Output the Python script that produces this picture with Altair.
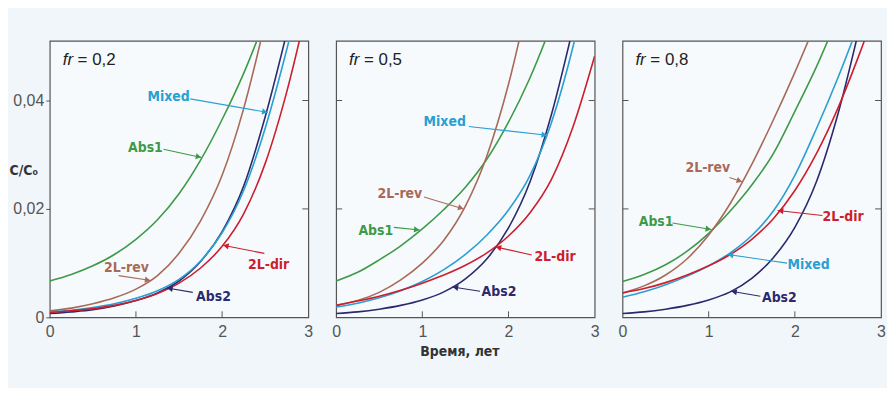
import math
import altair as alt
import pandas as pd

# ---------------- data ----------------
X_GRID = [0, 0.25, 0.5, 0.75, 1.0, 1.25, 1.5, 1.75, 2.0, 2.25, 2.5, 2.75, 3.0]
SERIES = ["Abs1", "2L-rev", "Abs2", "Mixed", "2L-dir"]
COLORS = ["#3d9a47", "#a86a58", "#2c2a6c", "#2a9fd2", "#cc1f2d"]
PANELS = ["0,2", "0,5", "0,8"]
X_TICKS = [0, 1, 2, 3]
Y_TICKS = [0, 0.02, 0.04]
Y_TOP = 0.051

# fr = 0,2
P1_ABS1 = [0.0067, 0.0079, 0.0095, 0.0116, 0.0144, 0.0180, 0.0228, 0.0290, 0.0365, 0.0450, 0.0550]
P1_2LREV = [0.0012, 0.0017, 0.0025, 0.0036, 0.0052, 0.0077, 0.0118, 0.0178, 0.0262, 0.0385, 0.0545]
P1_ABS2 = [0.0007, 0.0010, 0.0014, 0.0021, 0.0031, 0.0045, 0.0067, 0.0103, 0.0158, 0.0242, 0.0370, 0.0525]
P1_MIXED = [0.0010, 0.0013, 0.0018, 0.0025, 0.0035, 0.0049, 0.0070, 0.0104, 0.0156, 0.0234, 0.0349, 0.0494, 0.0659]
P1_2LDIR = [0.0009, 0.0012, 0.0016, 0.0022, 0.0031, 0.0044, 0.0063, 0.0091, 0.0131, 0.0191, 0.0284, 0.0416, 0.0581]
# fr = 0,5
P2_ABS1 = [0.0067, 0.0083, 0.0106, 0.0132, 0.0163, 0.0199, 0.0240, 0.0292, 0.0360, 0.0442, 0.0540]
P2_2LREV = [0.0022, 0.0031, 0.0046, 0.0069, 0.0100, 0.0142, 0.0205, 0.0298, 0.0430, 0.0600]
P2_ABS2 = [0.0007, 0.0010, 0.0015, 0.0022, 0.0032, 0.0047, 0.0071, 0.0108, 0.0165, 0.0250, 0.0375, 0.0535]
P2_MIXED = [0.0019, 0.0026, 0.0036, 0.0049, 0.0066, 0.0088, 0.0116, 0.0152, 0.0198, 0.0262, 0.0360, 0.0500, 0.0680]
P2_2LDIR = [0.0022, 0.0030, 0.0039, 0.0050, 0.0063, 0.0078, 0.0096, 0.0119, 0.0150, 0.0193, 0.0255, 0.0352, 0.0482]
# fr = 0,8
P3_ABS1 = [0.0066, 0.0079, 0.0097, 0.0122, 0.0155, 0.0196, 0.0244, 0.0302, 0.0380, 0.0462, 0.0555]
P3_2LREV = [0.0045, 0.0058, 0.0078, 0.0108, 0.0152, 0.0210, 0.0282, 0.0364, 0.0452, 0.0546]
P3_ABS2 = [0.0007, 0.0010, 0.0015, 0.0022, 0.0032, 0.0047, 0.0072, 0.0110, 0.0166, 0.0250, 0.0375, 0.0535]
P3_MIXED = [0.0037, 0.0047, 0.0060, 0.0076, 0.0095, 0.0119, 0.0151, 0.0196, 0.0262, 0.0348, 0.0442, 0.0545]
P3_2LDIR = [0.0045, 0.0053, 0.0064, 0.0078, 0.0095, 0.0116, 0.0144, 0.0182, 0.0234, 0.0302, 0.0386, 0.0486, 0.0596]

CURVES = [
    [P1_ABS1, P1_2LREV, P1_ABS2, P1_MIXED, P1_2LDIR],
    [P2_ABS1, P2_2LREV, P2_ABS2, P2_MIXED, P2_2LDIR],
    [P3_ABS1, P3_2LREV, P3_ABS2, P3_MIXED, P3_2LDIR],
]

# annotation: series, label x, label y, arrow start x, y, arrow tip x, y (data units)
ANN_P1 = [
    ("Mixed", 1.38, 0.0407, 1.63, 0.0403, 2.53, 0.0378),
    ("Abs1", 1.11, 0.0312, 1.32, 0.0310, 1.76, 0.0295),
    ("2L-rev", 0.89, 0.0091, 0.80, 0.0077, 1.17, 0.0068),
    ("Abs2", 1.90, 0.0038, 1.66, 0.0046, 1.36, 0.0054),
    ("2L-dir", 2.54, 0.0097, 2.49, 0.0118, 2.01, 0.0133),
]
ANN_P2 = [
    ("Mixed", 1.26, 0.0361, 1.54, 0.0352, 2.45, 0.0336),
    ("2L-rev", 0.74, 0.0228, 1.02, 0.0222, 1.48, 0.0200),
    ("Abs1", 0.46, 0.0160, 0.67, 0.0166, 0.97, 0.0161),
    ("2L-dir", 2.54, 0.0111, 2.27, 0.0115, 1.85, 0.0130),
    ("Abs2", 1.89, 0.0046, 1.67, 0.0048, 1.35, 0.0056),
]
ANN_P3 = [
    ("2L-rev", 0.99, 0.0276, 1.24, 0.0258, 1.39, 0.0250),
    ("Abs1", 0.39, 0.0176, 0.58, 0.0174, 1.03, 0.0162),
    ("2L-dir", 2.56, 0.0185, 2.32, 0.0188, 1.80, 0.0197),
    ("Mixed", 2.16, 0.0097, 1.91, 0.0100, 1.22, 0.0116),
    ("Abs2", 1.82, 0.0036, 1.60, 0.0039, 1.26, 0.0048),
]
ANNS = [ANN_P1, ANN_P2, ANN_P3]

# ---------------- style ----------------
W, H = 260, 278
LABEL_FONT = "DejaVu Sans Condensed, DejaVu Sans, sans-serif"
TICK_FONT = "Liberation Sans, Arial, sans-serif"
FRAME = "#555555"

cscale = alt.Scale(domain=SERIES, range=COLORS)
xscale = alt.Scale(domain=[0, 3], nice=False, zero=False)
yscale = alt.Scale(domain=[0, Y_TOP], nice=False, zero=False)

LABEL_EXPR = "datum.value == 0 ? '0' : replace(format(datum.value, '.2f'), '.', ',')"


def x_axis(i):
    kw = dict(values=X_TICKS, ticks=False, domain=False, grid=False, labelFlush=False,
              labelFont=TICK_FONT, labelFontSize=16, labelColor="#555", labelPadding=6)
    if i == 1:
        kw.update(title="Время, лет", titleFont=LABEL_FONT, titleFontSize=14,
                  titleFontWeight="bold", titleColor="#333", titleX=124,
                  titleY=34, titleBaseline="middle", titleAlign="center")
    else:
        kw.update(title=None)
    return alt.Axis(**kw)


def y_axis(i):
    if i == 0:
        return alt.Axis(values=Y_TICKS, labelExpr=LABEL_EXPR, tickSize=4, tickColor=FRAME,
                        domain=False, grid=False, labelFlush=False,
                        labelFont=TICK_FONT, labelFontSize=16, labelColor="#555", labelPadding=2,
                        title="C/C₀", titleAngle=0, titleX=-41, titleY=130,
                        titleAlign="left", titleBaseline="middle", titleFont=LABEL_FONT,
                        titleFontSize=14, titleFontWeight="bold", titleColor="#333")
    return None


PX_X = W / 3.0
PX_Y = H / Y_TOP


def panel(i):
    rows = []
    for s, vals in zip(SERIES, CURVES[i]):
        for xv, yv in zip(X_GRID, vals):
            rows.append({"series": s, "x": xv, "y": yv})
    df = pd.DataFrame(rows)

    arows = []
    for (s, lx, ly, sx, sy, tx, ty) in ANNS[i]:
        dx = (tx - sx) * PX_X
        dy = -(ty - sy) * PX_Y
        ang = math.degrees(math.atan2(dy, dx)) % 360
        L = math.hypot(dx, dy)
        back = 3.0
        hx = tx - (dx / L) * back / PX_X
        hy = ty + (dy / L) * back / PX_Y
        arows.append({"series": s, "lx": lx, "ly": ly, "sx": sx, "sy": sy,
                      "tx": tx, "ty": ty, "hx": hx, "hy": hy, "ang": ang})
    adf = pd.DataFrame(arows)

    xa = x_axis(i)
    ya = y_axis(i)

    def X(f):
        return alt.X(f, type="quantitative", scale=xscale, axis=xa)

    def Y(f):
        return alt.Y(f, type="quantitative", scale=yscale, axis=ya)

    col = alt.Color("series:N", scale=cscale, legend=None)

    lines = alt.Chart(df).mark_line(strokeWidth=1.6, interpolate="monotone", clip=True).encode(
        x=X("x"), y=Y("y"), color=col, detail="series:N")

    rules = alt.Chart(adf).mark_rule(strokeWidth=1.1).encode(
        x=X("sx"), y=Y("sy"), x2="tx", y2="ty", color=col)
    heads = alt.Chart(adf).mark_point(shape="triangle-right", filled=True, size=40, opacity=1).encode(
        x=X("hx"), y=Y("hy"), angle=alt.Angle("ang:Q", scale=None), color=col)
    texts = alt.Chart(adf).mark_text(font=LABEL_FONT, fontWeight="bold", fontSize=14).encode(
        x=X("lx"), y=Y("ly"), text="series:N", color=col)

    fr_df = pd.DataFrame({"fr": [PANELS[i]]})
    fr1 = alt.Chart(fr_df).mark_text(font=TICK_FONT, fontStyle="italic",
                                     fontSize=17, align="left", baseline="middle", color="#222").encode(
        x=alt.value(13), y=alt.value(19), text=alt.value("fr"))
    fr2 = alt.Chart(fr_df).mark_text(font=TICK_FONT, fontSize=17, align="left",
                                     baseline="middle", color="#222").encode(
        x=alt.value(28), y=alt.value(19), text=alt.Text("label:N")).transform_calculate(
        label="'= ' + datum.fr")

    tdf = pd.DataFrame({"yt": [v for v in Y_TICKS if v > 0]})
    rticks = alt.Chart(tdf).mark_rule(color=FRAME, strokeWidth=1).encode(
        y=Y("yt"), x=alt.value(W - 6), x2=alt.value(W))
    xdf = pd.DataFrame({"xt": [v for v in X_TICKS if 0 < v < 3]})
    bticks = alt.Chart(xdf).mark_rule(color=FRAME, strokeWidth=1).encode(
        x=X("xt"), y=alt.value(H - 6), y2=alt.value(H))

    layers = [rticks, bticks]
    if i > 0:
        lticks = alt.Chart(tdf).mark_rule(color=FRAME, strokeWidth=1).encode(
            y=Y("yt"), x=alt.value(0), x2=alt.value(6))
        layers.append(lticks)
    layers += [lines, rules, heads, texts, fr1, fr2]
    return alt.layer(*layers).properties(width=W, height=H)


chart = alt.hconcat(panel(0), panel(1), panel(2), spacing=28, bounds="flush").properties(
    padding={"left": 0, "top": 31, "right": 0, "bottom": 28},
    background="#f1f6fb",
).configure_view(stroke=FRAME, strokeWidth=1.2, fill="#f7fafd")

chart.save("out.html", embed_options={"renderer": "svg", "actions": False})
